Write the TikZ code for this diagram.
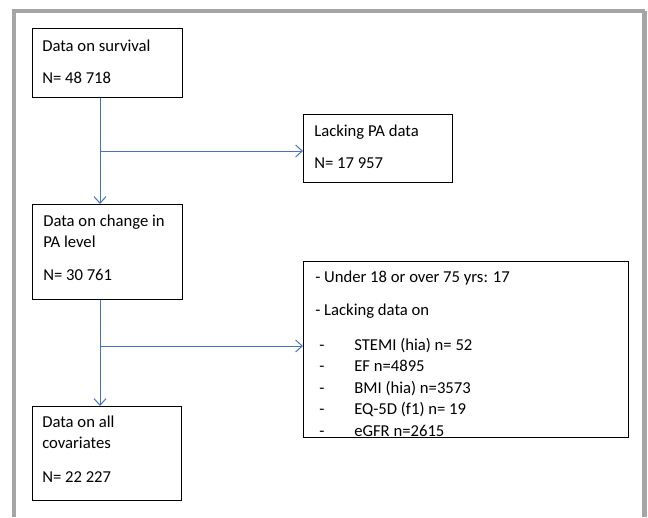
\documentclass[tikz,border=0pt]{standalone}
\usepackage{fontspec}
\setmainfont{Carlito}
\usetikzlibrary{arrows.meta}
\definecolor{flowblue}{RGB}{68,114,196}
\definecolor{framegray}{RGB}{165,165,165}
\tikzset{
  box/.style={draw=black, line width=0.75pt, rectangle, inner sep=0pt, anchor=north west},
  area/.style={rectangle, inner sep=0pt, anchor=north west},
  txt/.style={anchor=base west, inner sep=0pt, font=\fontsize{12.5}{14}\selectfont},
  arr/.style={draw=flowblue, line width=0.75pt, -{Straight Barb[length=5pt,width=9pt,line width=0.75pt]}},
}
\begin{document}
\begin{tikzpicture}[x=0.75pt,y=-0.75pt]
\useasboundingbox (0,0) rectangle (648,517);
% frame
\draw[framegray, line width=3pt] (14,517) -- (14,11.5) -- (644.5,11.5);
\draw[framegray, line width=3.75pt] (644.5,11.5) -- (644.5,517);
% boxes
\node[box, minimum width=112.5pt, minimum height=51.75pt] (b1) at (32,28) {};
\node[box, minimum width=112.5pt, minimum height=71.25pt] (b2) at (32,204) {};
\node[box, minimum width=111.75pt, minimum height=51pt] (b3) at (303,114) {};
\node[area, minimum width=243.75pt, minimum height=132pt] (b4) at (303,261) {};
\node[box, minimum width=111.75pt, minimum height=70.5pt] (b5) at (32,406) {};
% texts
\node[txt] (t1a) at (42,51) {Data on survival};
\node[txt] (t1b) at (42,84) {N= 48 718};
\node[txt] (t2a) at (43,226) {Data on change in};
\node[txt] (t2b) at (43,247) {PA level};
\node[txt] (t2c) at (43,280) {N= 30 761};
\node[txt] (t3a) at (314,136) {Lacking PA data};
\node[txt] (t3b) at (314,168) {N= 17 957};
\node[txt] (t5a) at (42,427) {Data on all};
\node[txt] (t5b) at (42,448) {covariates};
\node[txt] (t5c) at (42,482) {N= 22 227};
\begin{scope}
\clip (b4.north west) rectangle (b4.south east);
\node[txt] (t4a) at (315,282) {- Under 18 or over 75 yrs: 17};
\node[txt] (t4b) at (315,315) {- Lacking data on};
\node[txt] (d1) at (319,350) {-};
\node[txt] (d2) at (319,371.5) {-};
\node[txt] (d3) at (319,393) {-};
\node[txt] (d4) at (319,414.5) {-};
\node[txt] (d5) at (319,436) {-};
\node[txt] (i1) at (354,350) {STEMI (hia) n= 52};
\node[txt] (i2) at (354,371.5) {EF n=4895};
\node[txt] (i3) at (354,393) {BMI (hia) n=3573};
\node[txt] (i4) at (354,414.5) {EQ-5D (f1) n= 19};
\node[txt] (i5) at (354,436) {eGFR n=2615};
\end{scope}
\draw[black, line width=0.75pt] (b4.north west) rectangle (b4.south east);
% connectors
\coordinate (j1) at (100,151);
\coordinate (j2) at (100,346);
\draw[arr] (b1.south -| j1) -- (b2.north -| j1);
\draw[arr] (b2.south -| j2) -- (b5.north -| j2);
\draw[arr] (j1) -- (j1 -| b3.west);
\draw[arr] (j2) -- (j2 -| b4.west);
\end{tikzpicture}
\end{document}
